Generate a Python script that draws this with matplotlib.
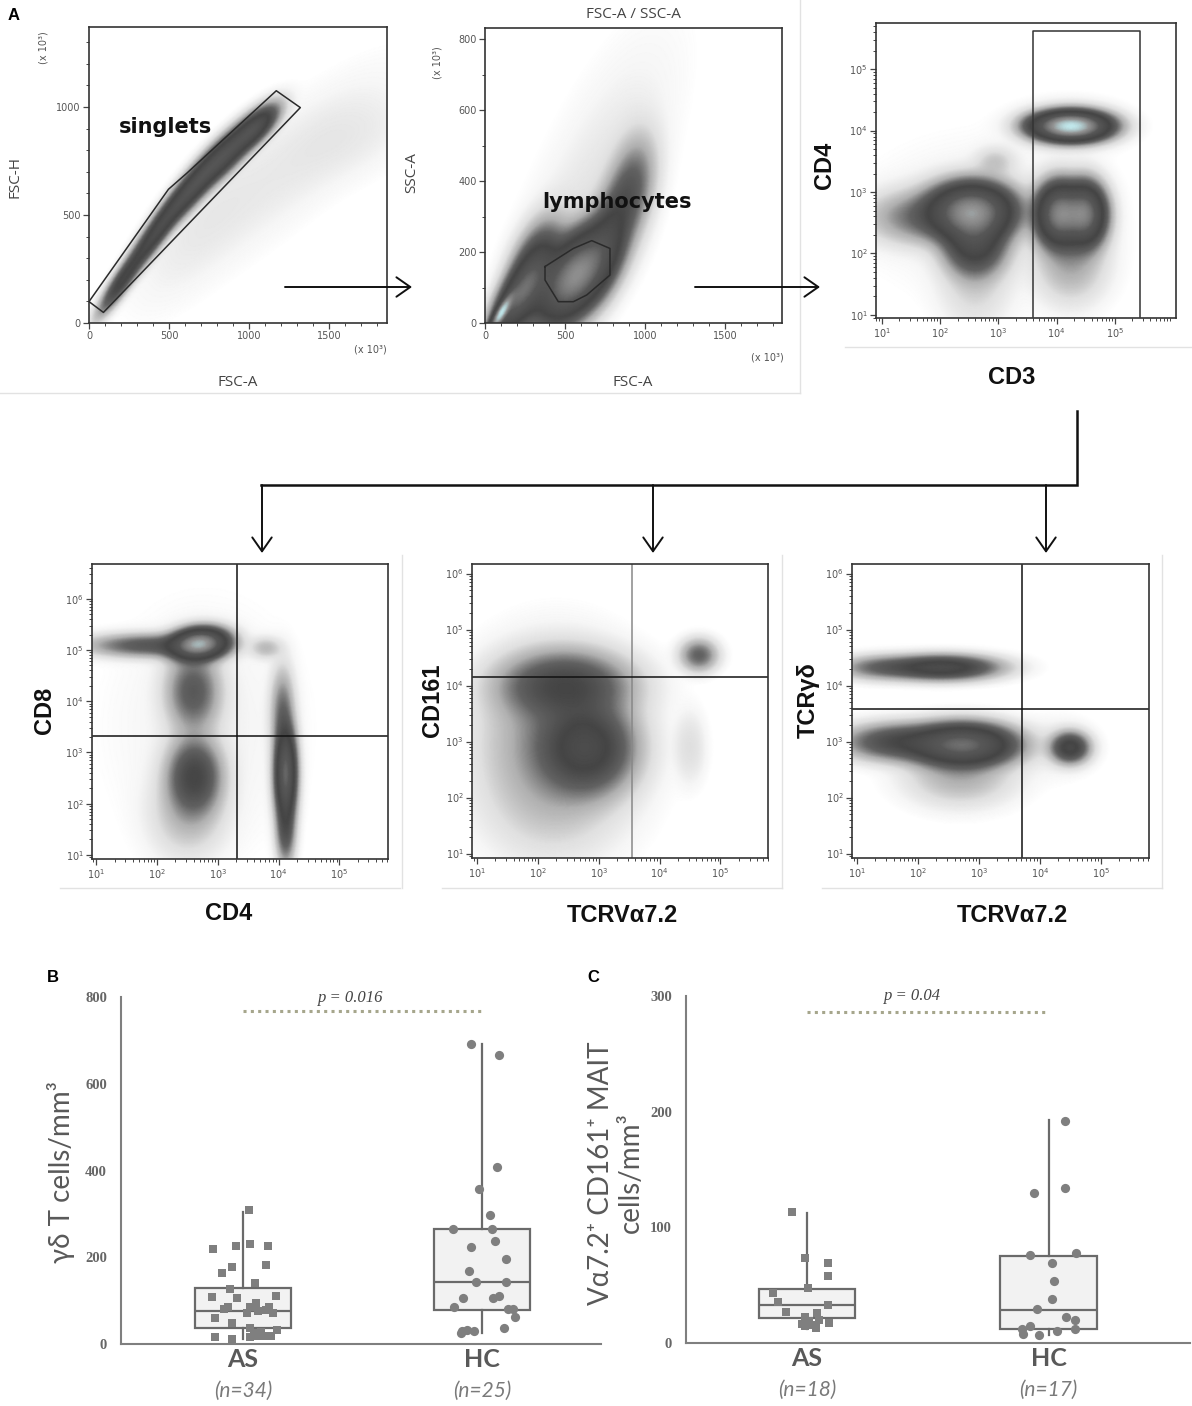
import numpy as np
import matplotlib.pyplot as plt
from matplotlib.colors import LinearSegmentedColormap
from matplotlib.ticker import MultipleLocator, LogLocator, NullFormatter

W, H = 1192, 1406

# ---------------- panel A: populations (cx, cy, along-sd, across-sd, angle, weight) ----------------
# linear plots in units of 10^3, fluorescence plots in log10 units
singlet_pops = [
    (200, 190, 110, 26, 47, 0.50),
    (420, 420, 150, 30, 46, 0.70),
    (640, 620, 140, 34, 41, 0.85),
    (850, 780, 140, 38, 36, 1.00),
    (1040, 905, 90, 34, 33, 0.80),
    (1250, 720, 450, 130, 32, 0.014),
    (1650, 860, 250, 110, 15, 0.010),
    (700, 450, 300, 120, 40, 0.012),
]
scatter_pops = [
    (100, 28, 50, 14, 35, 1.00),
    (200, 70, 110, 40, 30, 0.45),
    (300, 140, 110, 60, 35, 0.30),
    (570, 135, 140, 60, 20, 0.85),
    (780, 250, 110, 60, 45, 0.18),
    (920, 380, 100, 70, 45, 0.12),
    (650, 330, 380, 150, 40, 0.015),
]
cd3_cd4_pops = [
    (4.25, 4.08, 0.36, 0.13, 0, 1.00),
    (4.05, 2.65, 0.22, 0.28, 0, 0.60),
    (4.50, 2.65, 0.20, 0.28, 0, 0.55),
    (4.25, 1.90, 0.35, 0.40, 0, 0.05),
    (2.55, 2.70, 0.40, 0.25, 0, 0.65),
    (2.60, 2.20, 0.30, 0.30, 0, 0.25),
    (1.70, 2.60, 0.55, 0.25, 0, 0.08),
    (2.60, 1.50, 0.35, 0.45, 0, 0.02),
    (2.95, 3.50, 0.20, 0.14, 0, 0.025),
    (3.60, 4.10, 0.15, 0.10, 0, 0.020),
    (4.25, 4.10, 0.50, 0.22, 0, 0.020),
    (2.80, 2.60, 1.30, 0.80, 0, 0.006),
]
cd4_cd8_pops = [
    (2.70, 5.13, 0.25, 0.16, 8, 1.00),
    (1.90, 5.10, 0.60, 0.13, 0, 0.15),
    (2.60, 4.20, 0.25, 0.45, 0, 0.14),
    (2.62, 2.55, 0.25, 0.42, 0, 0.22),
    (2.50, 1.80, 0.35, 0.50, 0, 0.04),
    (4.12, 2.60, 0.10, 0.50, 0, 0.60),
    (4.07, 3.80, 0.11, 0.50, 0, 0.10),
    (4.12, 1.50, 0.09, 0.40, 0, 0.15),
    (3.80, 5.05, 0.15, 0.12, 0, 0.04),
    (2.80, 3.50, 1.00, 1.50, 0, 0.006),
]
va72_cd161_pops = [
    (2.45, 4.00, 0.55, 0.32, 0, 0.50),
    (2.80, 2.90, 0.40, 0.42, 0, 0.70),
    (2.30, 3.00, 0.65, 0.80, 0, 0.15),
    (2.20, 1.90, 0.60, 0.60, 0, 0.03),
    (4.65, 4.55, 0.16, 0.15, 0, 0.25),
    (4.50, 2.90, 0.14, 0.35, 0, 0.025),
]
va72_gd_pops = [
    (2.40, 4.33, 0.50, 0.12, 0, 0.40),
    (1.40, 4.33, 0.40, 0.12, 0, 0.12),
    (2.75, 2.95, 0.45, 0.20, 0, 0.85),
    (1.70, 3.00, 0.50, 0.18, 0, 0.25),
    (2.70, 2.40, 0.50, 0.30, 0, 0.06),
    (4.50, 2.90, 0.17, 0.15, 0, 0.35),
    (4.30, 2.90, 0.35, 0.30, 0, 0.010),
]

# gates
singlet_gate_x = [0, 90, 1319, 1169, 610, 496]
singlet_gate_y = [99, 49, 997, 1075, 693, 619]
lymph_gate_x = [375, 375, 458, 552, 636, 781, 781, 667, 552]
lymph_gate_y = [159, 121, 60, 60, 79, 135, 210, 232, 210]
cd3_gate = (10 ** 3.6, 10 ** 5.44, 10 ** 5.62)
cd4_cd8_quad = (10 ** 3.32, 10 ** 3.32)
va72_cd161_quad = (10 ** 3.55, 10 ** 4.15)
va72_gd_quad = (10 ** 3.71, 10 ** 3.58)
log_major = [1e1, 1e2, 1e3, 1e4, 1e5, 1e6]

# ---------------- panels B and C ----------------
groups = ["AS", "HC"]
gd_n = ["(n=34)", "(n=25)"]
mait_n = ["(n=18)", "(n=17)"]

gd_as = [309, 219, 226, 230, 226, 182, 177, 163, 141, 126, 108, 105, 111, 94, 86, 80, 78,
         85, 77, 71, 59, 48, 36, 32, 15, 12, 17, 18, 18, 18, 28, 26, 86, 71]
gd_as_dx = [0.025, -0.126, -0.027, 0.03, 0.105, 0.097, -0.047, -0.089, 0.052, -0.054, -0.131,
            -0.024, 0.138, 0.053, -0.064, -0.08, 0.097, 0.031, 0.063, 0.125, -0.118, -0.047,
            0.031, 0.141, -0.118, -0.047, 0.031, 0.061, 0.09, 0.119, 0.075, 0.046, 0.11, 0.016]
gd_hc = [692, 667, 409, 358, 298, 264, 266, 238, 223, 196, 169, 144, 144, 105, 105, 111, 85,
         81, 81, 62, 38, 31, 32, 31, 26]
gd_hc_dx = [-0.047, 0.072, 0.062, -0.011, 0.032, -0.123, 0.044, 0.055, -0.047, 0.1, -0.056,
            -0.026, 0.1, -0.081, 0.047, 0.071, -0.117, 0.108, 0.13, 0.138, 0.092, -0.085,
            -0.063, -0.033, -0.088]
gd_box = [dict(whislo=12, q1=36, med=76, q3=130, whishi=304),
          dict(whislo=25, q1=78, med=143, q3=264, whishi=692)]

mait_as = [113.3, 73.5, 69.2, 58.2, 47.8, 43.5, 35.4, 32.6, 26.8, 22.5, 25.9, 19, 14.4, 13.3,
           17.3, 19.6, 15.3, 16.7]
mait_as_dx = [-0.061, -0.007, 0.086, 0.086, 0.003, -0.14, -0.122, 0.086, -0.086, -0.008, 0.042,
              0.01, -0.008, 0.039, 0.089, 0.049, 0.022, -0.02]
mait_hc = [192, 130, 134, 75.8, 77.8, 69.2, 53.6, 38.3, 29.1, 22.5, 20.2, 12.4, 14.7, 12.4,
           8.1, 7.2, 10.4]
mait_hc_dx = [0.068, -0.059, 0.067, -0.077, 0.113, 0.015, 0.024, 0.015, -0.05, 0.071, 0.108,
              0.108, -0.077, -0.11, -0.107, -0.04, 0.034]
mait_box = [dict(whislo=12, q1=21.6, med=32.6, q3=47, whishi=112.7),
            dict(whislo=7, q1=12.4, med=28.2, q3=75, whishi=192.5)]

# ---------------- drawing ----------------
flow_cmap = LinearSegmentedColormap.from_list("flow", [
    (0.00, "#ffffff"), (0.20, "#f6f6f6"), (0.40, "#e0e0e0"), (0.55, "#b0b0b0"),
    (0.66, "#626262"), (0.76, "#454545"), (0.87, "#575757"), (0.95, "#949494"),
    (1.00, "#c0e6ea")])

fig = plt.figure(figsize=(W / 100, H / 100), dpi=100)


def rect(x0, y0, x1, y1):
    return [x0 / W, 1 - y1 / H, (x1 - x0) / W, (y1 - y0) / H]


def density(ax, pops, xlim, ylim, log, decades, top):
    gx = np.linspace(xlim[0], xlim[1], 360)
    gy = np.linspace(ylim[0], ylim[1], 360)
    X, Y = np.meshgrid(gx, gy)
    d = np.zeros_like(X)
    for cx, cy, sa, sb, ang, w in pops:
        t = np.deg2rad(ang)
        u = (X - cx) * np.cos(t) + (Y - cy) * np.sin(t)
        v = -(X - cx) * np.sin(t) + (Y - cy) * np.cos(t)
        d += w * np.exp(-0.5 * ((u / sa) ** 2 + (v / sb) ** 2))
    val = np.clip(1 + np.log10(d / d.max() + 1e-15) / decades, 0, 1) * top
    if log:
        gx, gy = 10 ** gx, 10 ** gy
    ax.pcolormesh(gx, gy, val, cmap=flow_cmap, vmin=0, vmax=1, shading="gouraud")


def flow_axes(box, pops, xlim, ylim, log, decades=3.0, top=1.0):
    ax = fig.add_axes(rect(*box))
    density(ax, pops, xlim, ylim, log, decades, top)
    if log:
        ax.set_xscale("log")
        ax.set_yscale("log")
        ax.set_xlim(10 ** xlim[0], 10 ** xlim[1])
        ax.set_ylim(10 ** ylim[0], 10 ** ylim[1])
        for a in (ax.xaxis, ax.yaxis):
            a.set_minor_locator(LogLocator(base=10, subs=np.arange(2, 10), numticks=20))
            a.set_minor_formatter(NullFormatter())
        ax.set_xticks([t for t in log_major if t < 10 ** 5.9])
        ax.set_yticks([t for t in log_major if t < 10 ** ylim[1]])
    else:
        ax.set_xlim(*xlim)
        ax.set_ylim(*ylim)
        ax.xaxis.set_minor_locator(MultipleLocator(100))
        ax.yaxis.set_minor_locator(MultipleLocator(100))
    ax.tick_params(which="major", direction="out", length=4, width=0.9, color="#444",
                   labelsize=7, labelcolor="#555", pad=2)
    ax.tick_params(which="minor", direction="out", length=2, width=0.7, color="#444")
    for s in ax.spines.values():
        s.set_color("#333")
        s.set_linewidth(1.2)
    return ax


# row 1
ax1 = flow_axes((89, 27, 387, 323), singlet_pops, (0, 1860), (0, 1370), False, 3.0, 0.86)
ax1.set_xticks([0, 500, 1000, 1500])
ax1.set_yticks([0, 500, 1000])
ax1.plot(singlet_gate_x + singlet_gate_x[:1], singlet_gate_y + singlet_gate_y[:1], color="#2a2a2a", lw=1.1)

ax2 = flow_axes((485, 28, 782, 323), scatter_pops, (0, 1856), (0, 831), False, 3.0, 1.0)
ax2.set_xticks([0, 500, 1000, 1500])
ax2.set_yticks([0, 200, 400, 600, 800])
ax2.plot(lymph_gate_x + lymph_gate_x[:1], lymph_gate_y + lymph_gate_y[:1], color="#2a2a2a", lw=1.1)

ax3 = flow_axes((876, 23, 1176, 318), cd3_cd4_pops, (0.9, 6.05), (0.95, 5.75), True, 3.0, 1.0)
gx0, gx1, gy1 = cd3_gate
ax3.plot([gx0, gx0, gx1, gx1], [10 ** 0.96, gy1, gy1, 10 ** 0.96], color="#333", lw=1.1)

# row 2
ax4 = flow_axes((92, 564, 388, 859), cd4_cd8_pops, (0.93, 5.8), (0.92, 6.68), True, 3.0, 0.97)
ax4.axvline(cd4_cd8_quad[0], color="#111", lw=1.1)
ax4.axhline(cd4_cd8_quad[1], color="#111", lw=1.1)

ax5 = flow_axes((472, 564, 768, 858), va72_cd161_pops, (0.92, 5.78), (0.92, 6.17), True, 3.0, 0.8)
ax5.axvline(va72_cd161_quad[0], color="#888", lw=1.1)
ax5.axhline(va72_cd161_quad[1], color="#111", lw=1.1)

ax6 = flow_axes((852, 564, 1149, 858), va72_gd_pops, (0.92, 5.79), (0.92, 6.17), True, 3.0, 0.9)
ax6.axvline(va72_gd_quad[0], color="#111", lw=1.1)
ax6.axhline(va72_gd_quad[1], color="#111", lw=1.1)


# ---------------- B and C ----------------
def count_panel(box, xlim, ylim, yticks, stats, v_as, dx_as, v_hc, dx_hc, nlabels, ptxt, pline, ptext_x, ptext_y):
    ax = fig.add_axes(rect(*box))
    for s in ("top", "right"):
        ax.spines[s].set_visible(False)
    for s in ("left", "bottom"):
        ax.spines[s].set_color("#7f7f7f")
        ax.spines[s].set_linewidth(1.5)
    bstats = [dict(s, label=g) for s, g in zip(stats, groups)]
    ax.bxp(bstats, positions=[0, 1], widths=0.4, patch_artist=True, showcaps=False,
           showfliers=False,
           boxprops=dict(facecolor="#f2f2f2", edgecolor="#6a6a6a", lw=1.6),
           whiskerprops=dict(color="#6a6a6a", lw=1.6),
           medianprops=dict(color="#6a6a6a", lw=1.6))
    ax.set_xlim(*xlim)
    ax.set_ylim(*ylim)
    ax.set_yticks(yticks)
    ax.set_yticklabels([str(t) for t in yticks], family="Liberation Serif", weight="bold",
                       size=10.5, color="#666")
    ax.tick_params(axis="y", length=0, pad=10)
    ax.set_xticks([0, 1])
    ax.set_xticklabels(groups, family="Lato", weight="bold", size=18, color="#595959")
    ax.tick_params(axis="x", length=0, pad=3)
    for i, lab in enumerate(nlabels):
        ax.text(i, -0.135, lab, transform=ax.get_xaxis_transform(), ha="center", va="center",
                family="Lato", style="italic", size=15, color="#7a7a7a")
    ax.scatter(np.array(dx_as), v_as, marker="s", s=38, color="#7f7f7f", zorder=3, lw=0)
    ax.scatter(1 + np.array(dx_hc), v_hc, marker="o", s=44, color="#7f7f7f", zorder=3, lw=0)
    ax.plot([0, 1], [pline, pline], ls=(0, (1, 1.4)), color="#a6a68c", lw=2.2)
    ax.text(ptext_x, ptext_y, ptxt, ha="center", va="center", family="Liberation Serif",
            style="italic", size=12, color="#444", clip_on=False)
    return ax


axB = count_panel((121, 997, 601, 1344), (-0.51, 1.498), (0, 800), [0, 200, 400, 600, 800],
                  gd_box, gd_as, gd_as_dx, gd_hc, gd_hc_dx, gd_n, "p = 0.016", 767, 0.45, 797)
axC = count_panel((686, 996, 1190, 1343), (-0.501, 1.585), (0, 300), [0, 100, 200, 300],
                  mait_box, mait_as, mait_as_dx, mait_hc, mait_hc_dx, mait_n, "p = 0.04", 286, 0.435, 300)

# ---------------- overlay: labels, arrows, frames ----------------
ov = fig.add_axes([0, 0, 1, 1], zorder=10)
ov.set_xlim(0, W)
ov.set_ylim(H, 0)
ov.axis("off")
ov.patch.set_alpha(0)

frame = dict(color="#e2e2e2", lw=1.0)
ov.plot([0, 800], [393, 393], **frame)
ov.plot([800, 800], [0, 393], **frame)
ov.plot([845, 1192], [347, 347], **frame)
ov.plot([60, 400], [888, 888], **frame)
ov.plot([442, 782], [888, 888], **frame)
ov.plot([822, 1162], [888, 888], **frame)
for x in (402, 782, 1162):
    ov.plot([x, x], [555, 888], **frame)

arrow = dict(arrowstyle="->, head_length=0.5, head_width=0.35", color="#111", lw=1.4,
             mutation_scale=20, shrinkA=0, shrinkB=0)
ov.annotate("", xy=(412, 287), xytext=(285, 287), arrowprops=arrow)
ov.annotate("", xy=(820, 287), xytext=(695, 287), arrowprops=arrow)
ov.plot([1077, 1077, 261], [411, 485, 485], color="#111", lw=1.8, solid_joinstyle="miter")
for x in (262, 653, 1046):
    ov.annotate("", xy=(x, 553), xytext=(x, 485), arrowprops=arrow)

light = dict(family="Open Sans", size=11, color="#444", ha="center", va="center")
small = dict(family="DejaVu Sans", size=7, color="#555", ha="center", va="center")
bold = dict(family="Liberation Sans", weight="bold", size=17, color="#111", ha="center", va="center")
gate_lab = dict(family="DejaVu Sans", weight="bold", size=15, color="#111", ha="center", va="center")

ov.text(14, 15, "A", family="Liberation Sans", weight="bold", size=12, ha="center", va="center")
ov.text(15, 177, "FSC-H", rotation=90, **light)
ov.text(238, 383, "FSC-A", **light)
ov.text(43, 48, "(x 10³)", rotation=90, **small)
ov.text(370, 350, "(x 10³)", **small)
ov.text(166, 127, "singlets", **gate_lab)

ov.text(633, 14, "FSC-A / SSC-A", **light)
ov.text(412, 173, "SSC-A", rotation=90, **light)
ov.text(633, 383, "FSC-A", **light)
ov.text(438, 63, "(x 10³)", rotation=90, **small)
ov.text(767, 358, "(x 10³)", **small)
ov.text(617, 202, "lymphocytes", **gate_lab)

ov.text(825, 165, "CD4", rotation=90, **bold)
ov.text(1012, 377, "CD3", **bold)
ov.text(45, 710, "CD8", rotation=90, **bold)
ov.text(229, 913, "CD4", **bold)
ov.text(432, 700, "CD161", rotation=90, **bold)
ov.text(622, 915, "TCRVα7.2", **bold)
ov.text(808, 700, "TCRγδ", rotation=90, **bold)
ov.text(1012, 915, "TCRVα7.2", **bold)

ov.text(53, 978, "B", family="Liberation Sans", weight="bold", size=12, ha="center", va="center")
ov.text(593, 978, "C", family="Liberation Sans", weight="bold", size=12, ha="center", va="center")
ylab = dict(family=["Lato", "DejaVu Sans"], size=20, color="#595959", ha="center", va="center",
            rotation=90, multialignment="center")
ov.text(61, 1172, "γδ T cells/mm³", **ylab)
ov.text(616, 1173, "Vα7.2⁺ CD161⁺ MAIT\ncells/mm³", linespacing=1.15, **ylab)

fig.savefig("out.png", dpi=100)
